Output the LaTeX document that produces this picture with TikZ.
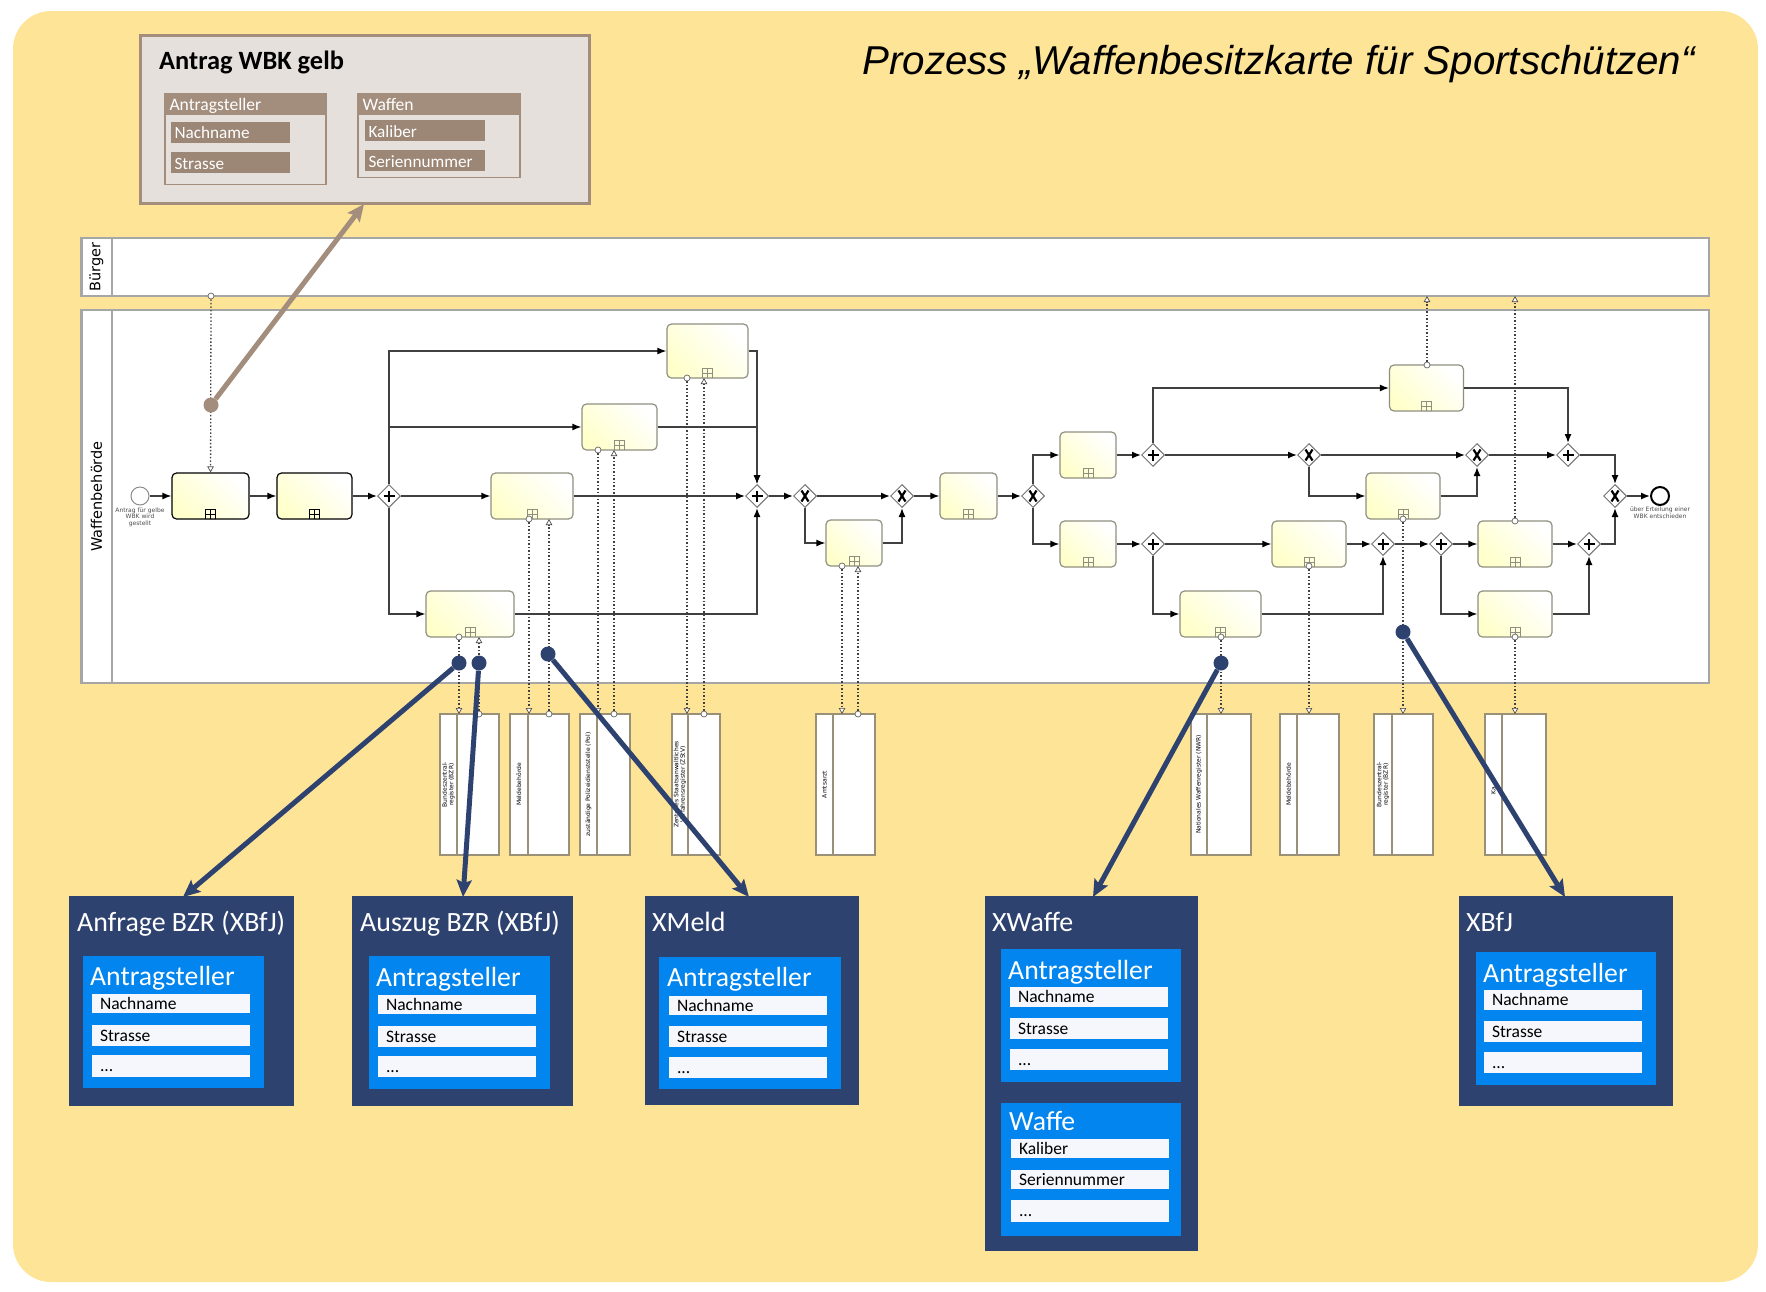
\documentclass[tikz,border=0pt]{standalone}
\usepackage{fontspec}
\setmainfont{Carlito}
\newfontfamily\titlefont{Liberation Sans}
\newfontfamily\bpmnfont{DejaVu Sans}
\usetikzlibrary{arrows.meta,shapes.geometric}
\definecolor{paper}{HTML}{FEE497}
\definecolor{brownline}{HTML}{A38D7D}
\definecolor{brownfill}{HTML}{E6E0DC}
\definecolor{brownfield}{HTML}{9C8676}
\definecolor{darkblue}{HTML}{2E4270}
\definecolor{midblue}{HTML}{0285EE}
\definecolor{fieldwhite}{HTML}{F5F7FC}
\definecolor{taskyellow}{HTML}{FFFFCC}
\definecolor{taskline}{HTML}{8F8F80}
\definecolor{poolline}{HTML}{9A9078}
\begin{document}
\begin{tikzpicture}
[x=1pt,y=-1pt,
box/.style 2 args={shape=rectangle,anchor=north west,inner sep=0pt,outer sep=0pt,minimum width=#1pt,minimum height=#2pt},
field/.style 2 args={shape=rectangle,anchor=north west,inner ysep=0pt,outer sep=0pt,inner xsep=8pt,text width=142pt,align=left,
  text height=#1pt,text depth=#2pt,fill=fieldwhite,text=black,font=\fontsize{17.5}{19}\selectfont},
brfield/.style 2 args={field={#1}{#2},inner xsep=3.5pt,text width=112pt,fill=brownfield,text=white,font=\fontsize{17.2}{19}\selectfont},
brhead/.style={field={16.5}{5},inner xsep=4.5pt,text width=153pt,fill=brownline,text=white,font=\fontsize{17.6}{20}\selectfont},
boxtitle/.style={anchor=base west,inner sep=0pt,text=white,font=\fontsize{27.9}{30}\selectfont},
grouptitle/.style={anchor=base west,inner sep=0pt,text=white,font=\fontsize{27.7}{32}\selectfont},
lane/.style 2 args={shape=rectangle,draw=black!35,line width=2pt,fill=white,inner sep=0pt,minimum width=#1pt,minimum height=#2pt},
lanehead/.style 2 args={lane={#1}{#2},rotate=90,font=\bpmnfont\fontsize{14.5}{16}\selectfont},
pool/.style 2 args={shape=rectangle,draw=poolline,line width=1.2pt,fill=white,inner sep=0pt,minimum width=#1pt,minimum height=#2pt},
poolhead/.style={pool={141}{#1},rotate=90,align=center,font=\bpmnfont\fontsize{6}{6.6}\selectfont},
smalltext/.style={inner sep=0pt,align=center,text=black!70,font=\bpmnfont\fontsize{6}{6.5}\selectfont},
task/.style 2 args={shape=rectangle,rounded corners=4.5pt,draw=taskline,line width=1.2pt,inner sep=0pt,
  top color=white,middle color=taskyellow,bottom color=taskyellow,shading angle=-45,minimum width=#1pt,minimum height=#2pt,
  path picture={
    \draw[sharp corners,line width=.8pt] ([xshift=-5pt]path picture bounding box.south) rectangle ([xshift=5pt,yshift=10pt]path picture bounding box.south);
    \draw[sharp corners,line width=.8pt] ([yshift=10pt]path picture bounding box.south) -- (path picture bounding box.south);
    \draw[sharp corners,line width=.8pt] ([xshift=-5pt,yshift=5pt]path picture bounding box.south) -- ([xshift=5pt,yshift=5pt]path picture bounding box.south);}},
gateway/.style={shape=diamond,draw=black!55,line width=1pt,fill=white,inner sep=0pt,minimum width=23pt,minimum height=23pt},
gwplus/.style={gateway,path picture={
    \draw[line width=1.6pt,black] ([xshift=-5.5pt]path picture bounding box.center) -- ([xshift=5.5pt]path picture bounding box.center);
    \draw[line width=1.6pt,black] ([yshift=-5.5pt]path picture bounding box.center) -- ([yshift=5.5pt]path picture bounding box.center);}},
gwx/.style={gateway,path picture={
    \draw[line width=2.2pt,black] ([xshift=-3.5pt,yshift=-5.5pt]path picture bounding box.center) -- ([xshift=3.5pt,yshift=5.5pt]path picture bounding box.center);
    \draw[line width=2.2pt,black] ([xshift=3.5pt,yshift=-5.5pt]path picture bounding box.center) -- ([xshift=-3.5pt,yshift=5.5pt]path picture bounding box.center);}},
event/.style={shape=circle,fill=white,inner sep=0pt,minimum size=18pt},
flow/.style={draw=black!75,line width=1.4pt,-{Latex[length=9pt,width=7pt,black]}},
dataflow/.style={draw=black!75,line width=1.3pt,dash pattern=on 1.5pt off 2pt,-{Triangle[length=6pt,width=6.5pt,fill=white,color=black!70,line width=.7pt]}},
port/.style={shape=circle,draw=black!60,fill=white,line width=.7pt,inner sep=0pt,minimum size=6pt},
bluedot/.style={shape=circle,fill=darkblue,inner sep=0pt,minimum size=15pt},
browndot/.style={shape=circle,fill=brownline,inner sep=0pt,minimum size=15pt},
bluearrow/.style={draw=darkblue,line width=5pt,-{Stealth[length=17pt,width=15pt,inset=3pt,darkblue]}},
brownarrow/.style={draw=brownline,line width=5pt,-{Stealth[length=17pt,width=15pt,inset=3pt,brownline]}}]
\useasboundingbox (0,0) rectangle (1766,1291);
\fill[paper,rounded corners=38pt] (13,11) rectangle (1758,1282);
\node (title) [anchor=base east,inner sep=0pt,font=\titlefont\itshape\fontsize{40.3}{44}\selectfont] at (1695,74) {Prozess „Waffenbesitzkarte für Sportschützen“};
%% form
\node (form) [box={449}{168},fill=brownfill,draw=brownline,line width=3pt] at (140,35) {};
\node (formtitle) [anchor=base west,inner sep=0pt,font=\bfseries\fontsize{26.4}{28}\selectfont] at (159,69) {Antrag WBK gelb};
\node (fgroup1) [box={161}{91},draw=brownline,line width=1.5pt] at (165,93.5) {};
\node (fhead1) [brhead,text width=152pt] at (165,93.5) {Antragsteller};
\node (ffield1) [brfield={16}{5}] at (171,122) {Nachname};
\node (ffield2) [brfield={17.5}{3.5}] at (171,152) {Strasse};
\node (fgroup2) [box={162}{84},draw=brownline,line width=1.5pt] at (358,93.5) {};
\node (fhead2) [brhead] at (358,93.5) {Waffen};
\node (ffield3) [brfield={17}{4},text width=113pt] at (365,120) {Kaliber};
\node (ffield4) [brfield={17.5}{3.5},text width=113pt] at (365,150) {Seriennummer};
%% lanes
\node (buerger) [lane={1628}{58}] at (895,267) {};
\node (buergerhead) [lanehead={58}{30}] at (96.5,267) {Bürger};
\node (behoerde) [lane={1628}{373}] at (895,496.5) {};
\node (behoerdehead) [lanehead={373}{30}] at (96.5,496.5) {Waffenbehörde};
%% pools
\node (poolA) [pool={59}{141}] at (469.5,784.5) {};
\node (headA) [poolhead=17] at (448.5,784.5) {Bundeszentral-\\register (BZR)};
\node (poolB) [pool={59}{141}] at (539.5,784.5) {};
\node (headB) [poolhead=18] at (519,784.5) {Meldebehörde};
\node (poolC) [pool={50}{141}] at (605,784.5) {};
\node (headC) [poolhead=17] at (588.5,784.5) {zuständige Polizeidienststelle (Pol)};
\node (poolD) [pool={48}{141}] at (696,784.5) {};
\node (headD) [poolhead=16] at (680,784.5) {Zentrales Staatsanwaltliches\\Verfahrensregister (ZStV)};
\node (poolE) [pool={59}{141}] at (845.5,784.5) {};
\node (headE) [poolhead=17] at (824.5,784.5) {Amtsarzt};
\node (poolF) [pool={60}{141}] at (1221,784.5) {};
\node (headF) [poolhead=16] at (1199,784.5) {Nationales Waffenregister (NWR)};
\node (poolG) [pool={59}{141}] at (1309.5,784.5) {};
\node (headG) [poolhead=17] at (1288.5,784.5) {Meldebehörde};
\node (poolH) [pool={59}{141}] at (1403.5,784.5) {};
\node (headH) [poolhead=18] at (1383,784.5) {Bundeszentral-\\register (BZR)};
\node (poolI) [pool={61}{141}] at (1515.5,784.5) {};
\node (headI) [poolhead=17] at (1493.5,784.5) {};
\node (textI) [rotate=90,anchor=west,inner sep=0pt,font=\bpmnfont\fontsize{6}{6.6}\selectfont] at (1493.5,795) {Ka};
%% process, left part
\node (start) [event,draw=black!45,line width=1pt] at (140,496) {};
\node (startlabel) [smalltext] at (140,517) {Antrag für gelbe\\WBK wird\\gestellt};
\node (t1) [task={77}{46},draw=black] at (210.5,496) {};
\node (t2) [task={75}{46},draw=black] at (314.5,496) {};
\node (g1) [gwplus] at (389,496) {};
\node (t3) [task={82}{46}] at (532,496) {};
\node (t4) [task={88}{46}] at (470,614) {};
\node (t5) [task={81}{54}] at (707.5,351) {};
\node (t6) [task={75}{46}] at (619.5,427) {};
\node (g2) [gwplus] at (757,496) {};
\node (g3) [gwx] at (805,496) {};
\node (t7) [task={56}{46}] at (854,543) {};
\node (g4) [gwx] at (902,496) {};
\node (t8) [task={57}{46}] at (968.5,496) {};
\node (g5) [gwx] at (1033,496) {};
%% process, right part
\node (t9) [task={56}{46}] at (1088,455) {};
\node (t10) [task={56}{46}] at (1088,544) {};
\node (g6) [gwplus] at (1153,455) {};
\node (g7) [gwplus] at (1153,544) {};
\node (t11) [task={74}{46}] at (1426.5,388) {};
\node (g8) [gwx] at (1309,455) {};
\node (g9) [gwx] at (1477,455) {};
\node (g10) [gwplus] at (1568,455) {};
\node (t12) [task={74}{46}] at (1403,496) {};
\node (t13) [task={74}{46}] at (1309,544) {};
\node (t14) [task={74}{46}] at (1515,544) {};
\node (t15) [task={81}{46}] at (1220.5,614) {};
\node (t16) [task={74}{46}] at (1515,614) {};
\node (g11) [gwplus] at (1383,544) {};
\node (g12) [gwplus] at (1441,544) {};
\node (g13) [gwplus] at (1589,544) {};
\node (g14) [gwx] at (1615,496) {};
\node (end) [event,draw=black,line width=2pt] at (1660,496) {};
\node (endlabel) [smalltext] at (1660,513) {über Erteilung einer\\WBK entschieden};
%%
\draw[flow] (start) -- (t1);
\draw[flow] (t1) -- (t2);
\draw[flow] (t2) -- (g1);
\draw[flow] (g1) -- (t3);
\draw[flow] (g1) |- (t5);
\draw[flow] (g1) |- (t6);
\draw[flow] (g1) |- (t4);
\draw[flow] (t3) -- (g2);
\draw[flow] (t5) -| (g2);
\draw[flow] (t6) -| (g2);
\draw[flow] (t4) -| (g2);
\draw[flow] (g2) -- (g3);
\draw[flow] (g3) -- (g4);
\draw[flow] (g3) |- (t7);
\draw[flow] (t7) -| (g4);
\draw[flow] (g4) -- (t8);
\draw[flow] (t8) -- (g5);
\draw[flow] (g5) |- (t9);
\draw[flow] (g5) |- (t10);
\draw[flow] (t9) -- (g6);
\draw[flow] (t10) -- (g7);
\draw[flow] (g6) |- (t11);
\draw[flow] (t11) -| (g10);
\draw[flow] (g6) -- (g8);
\draw[flow] (g8) -- (g9);
\draw[flow] (g9) -- (g10);
\draw[flow] (g8) |- (t12);
\draw[flow] (t12) -| (g9);
\draw[flow] (g10) -| (g14);
\draw[flow] (g7) -- (t13);
\draw[flow] (g7) |- (t15);
\draw[flow] (t13) -- (g11);
\draw[flow] (t15) -| (g11);
\draw[flow] (g11) -- (g12);
\draw[flow] (g12) -- (t14);
\draw[flow] (g12) |- (t16);
\draw[flow] (t14) -- (g13);
\draw[flow] (t16) -| (g13);
\draw[flow] (g13) -| (g14);
\draw[flow] (g14) -- (end);
%% data flows
\node (p1) [port] at (211,296) {};
\draw[dataflow] (p1) -- (t1);
\node (p2) [port] at (459,637) {};
\coordinate (q2) at (459,714);
\draw[dataflow] (p2) -- (q2);
\node (p3) [port] at (479,714) {};
\coordinate (q3) at (479,637);
\draw[dataflow] (p3) -- (q3);
\node (p4) [port] at (529,519) {};
\coordinate (q4) at (529,714);
\draw[dataflow] (p4) -- (q4);
\node (p5) [port] at (549,714) {};
\coordinate (q5) at (549,519);
\draw[dataflow] (p5) -- (q5);
\node (p6) [port] at (598,450) {};
\coordinate (q6) at (598,714);
\draw[dataflow] (p6) -- (q6);
\node (p7) [port] at (614,714) {};
\coordinate (q7) at (614,450);
\draw[dataflow] (p7) -- (q7);
\node (p8) [port] at (687,378) {};
\coordinate (q8) at (687,714);
\draw[dataflow] (p8) -- (q8);
\node (p9) [port] at (704,714) {};
\coordinate (q9) at (704,378);
\draw[dataflow] (p9) -- (q9);
\node (p10) [port] at (842,566) {};
\coordinate (q10) at (842,714);
\draw[dataflow] (p10) -- (q10);
\node (p11) [port] at (858,714) {};
\coordinate (q11) at (858,566);
\draw[dataflow] (p11) -- (q11);
\node (p12) [port] at (1221,637) {};
\coordinate (q12) at (1221,714);
\draw[dataflow] (p12) -- (q12);
\node (p13) [port] at (1309,566) {};
\coordinate (q13) at (1309,714);
\draw[dataflow] (p13) -- (q13);
\node (p14) [port] at (1403,519) {};
\coordinate (q14) at (1403,714);
\draw[dataflow] (p14) -- (q14);
\node (p15) [port] at (1515,637) {};
\coordinate (q15) at (1515,714);
\draw[dataflow] (p15) -- (q15);
\node (p16) [port] at (1427,365) {};
\coordinate (q16) at (1427,296);
\draw[dataflow] (p16) -- (q16);
\node (p17) [port] at (1515,521) {};
\coordinate (q17) at (1515,296);
\draw[dataflow] (p17) -- (q17);
%% message boxes
\begin{scope}[yshift=1pt]
\node (bzr1) [box={225}{210},fill=darkblue] at (69,897) {};
\node (bzr1title) [boxtitle] at (77,932) {Anfrage BZR (XBfJ)};
\node (bzr1group) [box={181}{132},fill=midblue] at (83,957) {};
\node (bzr1name) [grouptitle] at (90,986) {Antragsteller};
\node (bzr1a) [field={15.5}{3.5}] at (92,995) {Nachname};
\node (bzr1b) [field={16}{5}] at (92,1026) {Strasse};
\node (bzr1c) [field={16}{6}] at (92,1056) {...};
%%
\node (bzr2) [box={221}{210},fill=darkblue] at (352,897) {};
\node (bzr2title) [boxtitle] at (360,932) {Auszug BZR (XBfJ)};
\node (bzr2group) [box={181}{133},fill=midblue] at (369,957) {};
\node (bzr2name) [grouptitle] at (376,987) {Antragsteller};
\node (bzr2a) [field={15.5}{3.5}] at (378,996) {Nachname};
\node (bzr2b) [field={16}{5}] at (378,1027) {Strasse};
\node (bzr2c) [field={16}{5}] at (378,1057) {...};
%%
\node (xmeld) [box={214}{209},fill=darkblue] at (645,897) {};
\node (xmeldtitle) [boxtitle] at (652,932) {XMeld};
\node (xmeldgroup) [box={182}{132},fill=midblue] at (659,958) {};
\node (xmeldname) [grouptitle] at (667,987) {Antragsteller};
\node (xmelda) [field={15.5}{3.5}] at (669,996.5) {Nachname};
\node (xmeldb) [field={16}{5}] at (669,1027) {Strasse};
\node (xmeldc) [field={16}{5}] at (669,1058) {...};
%%
\node (xwaffe) [box={213}{355},fill=darkblue] at (985,897) {};
\node (xwaffetitle) [boxtitle] at (992,932) {XWaffe};
\node (xwaffegroup1) [box={180}{133},fill=midblue] at (1001,950) {};
\node (xwaffename1) [grouptitle] at (1008,980) {Antragsteller};
\node (xwaffea) [field={15.5}{4.5}] at (1010,988) {Nachname};
\node (xwaffeb) [field={16}{5}] at (1010,1019) {Strasse};
\node (xwaffec) [field={16}{5}] at (1010,1050) {...};
\node (xwaffegroup2) [box={180}{133},fill=midblue] at (1001,1104) {};
\node (xwaffename2) [grouptitle] at (1009,1131) {Waffe};
\node (xwaffed) [field={15.5}{3.5}] at (1011,1140) {Kaliber};
\node (xwaffee) [field={15.5}{3.5}] at (1011,1171) {Seriennummer};
\node (xwaffef) [field={16}{6}] at (1011,1201) {...};
%%
\node (xbfj) [box={214}{210},fill=darkblue] at (1459,897) {};
\node (xbfjtitle) [boxtitle] at (1466,932) {XBfJ};
\node (xbfjgroup) [box={180}{133},fill=midblue] at (1476,953) {};
\node (xbfjname) [grouptitle] at (1483,983) {Antragsteller};
\node (xbfja) [field={15.5}{4.5}] at (1484,991) {Nachname};
\node (xbfjb) [field={16}{5}] at (1484,1022) {Strasse};
\node (xbfjc) [field={16}{5}] at (1484,1053) {...};
\end{scope}
%% links to the data
\node (d0) [browndot] at (211,405) {};
\coordinate (e0) at (364,204);
\draw[brownarrow] (d0) -- (e0);
\node (d1) [bluedot] at (459,663) {};
\coordinate (e1) at (183,897);
\draw[bluearrow] (d1) -- (e1);
\node (d2) [bluedot] at (479,663) {};
\coordinate (e2) at (463,897);
\draw[bluearrow] (d2) -- (e2);
\node (d3) [bluedot] at (548,654) {};
\coordinate (e3) at (749,897);
\draw[bluearrow] (d3) -- (e3);
\node (d4) [bluedot] at (1221,663) {};
\coordinate (e4) at (1093,897);
\draw[bluearrow] (d4) -- (e4);
\node (d5) [bluedot] at (1403,632) {};
\coordinate (e5) at (1565,897);
\draw[bluearrow] (d5) -- (e5);
\end{tikzpicture}
\end{document}
